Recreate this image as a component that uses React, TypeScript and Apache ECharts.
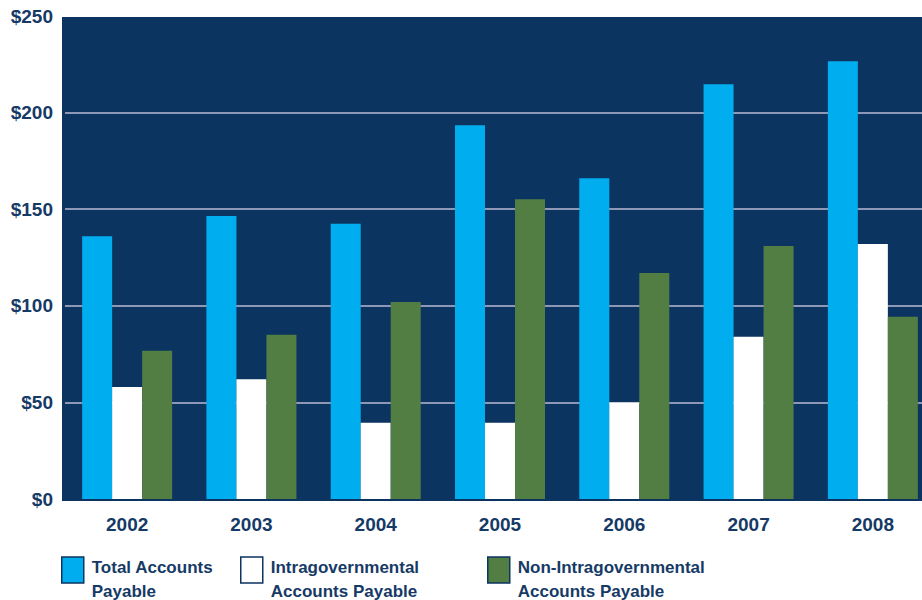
import React, { useEffect, useRef } from "react";
import * as echarts from "echarts";

const years = ["2002", "2003", "2004", "2005", "2006", "2007", "2008"];
const totalAP = [136, 146.5, 142.5, 193.5, 166, 214.7, 226.6];
const intraAP = [58, 62, 39.5, 39.5, 50, 84, 132];
const nonIntraAP = [76.7, 85, 102, 155.2, 117, 131, 94.3];
const yTicks = { min: 0, max: 250, interval: 50 };

const seriesNames = [
  "Total Accounts Payable",
  "Intragovernmental Accounts Payable",
  "Non-Intragovernmental Accounts Payable",
];
const legendLines: Record<string, string[]> = {
  "Total Accounts Payable": ["Total Accounts", "Payable"],
  "Intragovernmental Accounts Payable": ["Intragovernmental", "Accounts Payable"],
  "Non-Intragovernmental Accounts Payable": ["Non-Intragovernmental", "Accounts Payable"],
};
const colors = ["#00aeef", "#ffffff", "#527e43"];

const NAVY = "#0b3560";
const TEXT = "#163a66";
const GRIDLINE = "#8e97b5";
const FONT = "'Liberation Sans', Arial, sans-serif";

export default function App() {
  const ref = useRef<HTMLDivElement>(null);
  useEffect(() => {
    if (!ref.current) return;
    const chart = echarts.init(ref.current, null, { renderer: "svg" });
    const legendLefts = [61, 240, 487];
    const option: any = {
      animation: false,
      backgroundColor: "#ffffff",
      graphic: [
        {
          type: "rect",
          z: -10,
          silent: true,
          shape: { x: 62, y: 17, width: 878, height: 484 },
          style: { fill: NAVY },
        },
      ],
      grid: { left: 65, top: 16, width: 870, height: 483, containLabel: false },
      xAxis: {
        type: "category",
        data: years,
        axisTick: { show: false },
        axisLine: { show: true, lineStyle: { color: NAVY, width: 3 } },
        axisLabel: {
          margin: 16,
          color: TEXT,
          fontSize: 19,
          fontWeight: "bold",
          fontFamily: FONT,
        },
      },
      yAxis: {
        type: "value",
        min: yTicks.min,
        max: yTicks.max,
        interval: yTicks.interval,
        axisLine: { show: false },
        axisTick: { show: false },
        splitLine: {
          show: true,
          showMaxLine: false,
          lineStyle: { color: GRIDLINE, width: 2 },
        },
        axisLabel: {
          margin: 12,
          color: TEXT,
          fontSize: 19,
          fontWeight: "bold",
          fontFamily: FONT,
          formatter: (v: number) => "$" + v,
        },
      },
      legend: seriesNames.map((n, i) => ({
        data: [n],
        left: legendLefts[i],
        top: 544,
        padding: 0,
        orient: "horizontal",
        icon: "rect",
        itemWidth: 22,
        itemHeight: 26,
        selectedMode: false,
        itemStyle: { borderColor: NAVY, borderWidth: 1.5 },
        formatter: (name: string) =>
          "{s| }\n" + legendLines[name].map((l) => "{a|" + l + "}").join("\n"),
        textStyle: {
          color: TEXT,
          fontSize: 17,
          fontWeight: "bold",
          fontFamily: FONT,
          padding: [0, 0, 0, 3],
          rich: {
            s: { lineHeight: 18, fontSize: 4 },
            a: {
              lineHeight: 24,
              fontSize: 17,
              fontWeight: "bold",
              color: TEXT,
              fontFamily: FONT,
            },
          },
        },
      })),
      series: [totalAP, intraAP, nonIntraAP].map((d, i) => ({
        name: seriesNames[i],
        type: "bar",
        data: d,
        barWidth: 30,
        barGap: "0%",
        itemStyle: { color: colors[i] },
      })),
    };
    chart.setOption(option);
    return () => chart.dispose();
  }, []);
  return (
    <div
      style={{
        position: "fixed",
        left: 0,
        top: 0,
        width: 922,
        height: 600,
        overflow: "hidden",
      }}
    >
      <div ref={ref} style={{ width: 940, height: 600 }} />
    </div>
  );
}
